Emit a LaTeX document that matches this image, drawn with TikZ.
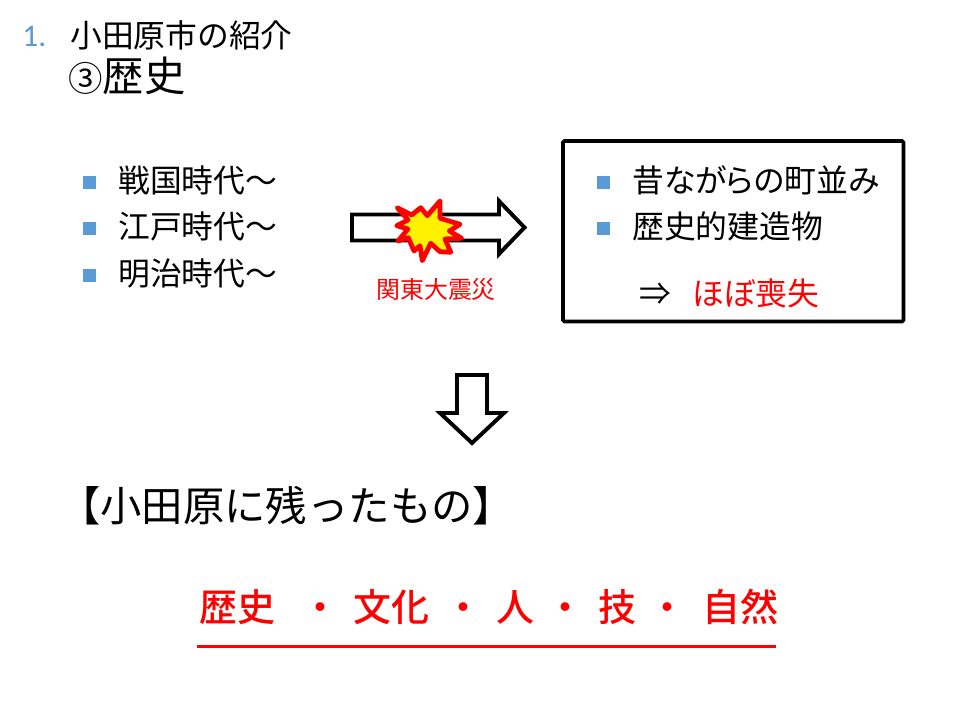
\documentclass[tikz,border=0pt]{standalone}
\usepackage{fontspec}
\usepackage{xcolor}
\setmainfont{Noto Sans CJK JP}
\newfontfamily\latinlabel{Carlito}
\newfontfamily\keyfont{Noto Sans CJK JP Medium}
\definecolor{bulletblue}{HTML}{5B9BD5}
\tikzset{
  bodytext/.style={anchor=base west, inner sep=0pt, font=\fontsize{22.6}{27}\selectfont},
  bigtext/.style={anchor=base west, inner sep=0pt, font=\fontsize{29.4}{35}\selectfont},
  keyword/.style={anchor=base west, inner sep=0pt, text=red, font=\keyfont\fontsize{27}{32}\selectfont},
  bulletbox/.style={fill=bulletblue, inner sep=0pt, minimum size=13*0.025cm},
  blockarrow/.style={draw=black, fill=white, line width=2.8pt, line join=miter}
}
\begin{document}
\begin{tikzpicture}[x=0.025cm, y=-0.025cm]
    \useasboundingbox (0,0) rectangle (960,720);
    % Title
    \node[anchor=base west, inner sep=0pt, text=bulletblue, font=\latinlabel\fontsize{22.4}{27}\selectfont] (num) at (22,47) {1.};
    \node[bodytext] (title) at (70,48) {小田原市の紹介};
    \node[bigtext] (era) at (68,92) {{\fontsize{24.5}{30}\selectfont ③}歴史};
    % Left list
    \foreach \yi/\name/\txt in {183/sengoku/戦国時代～, 229/edo/江戸時代～, 276/meiji/明治時代～}{
      \node[bulletbox] (b\name) at (89.5,\yi) {};
      \node[bodytext] (\name) at (118,\yi+10) {\txt};
    }
    % Arrow and burst
    \draw[blockarrow] (352,214.5) -- (499,214.5) -- (499,201) -- (524.5,227.5) -- (499,254) -- (499,240.5) -- (352,240.5) -- cycle;
    \draw[draw=red, fill=yellow, line width=3.4pt, line join=round]
      (397.3,207.7) -- (411.7,215) -- (420.7,207.7) -- (427.3,215.7) -- (440,201) -- (440,218.3)
      -- (460,224.3) -- (449.3,231) -- (461.7,238.3) -- (445,239) -- (450.7,252.3) -- (440,251.7)
      -- (430.7,243.3) -- (422.3,260.7) -- (420,245.7) -- (414,251) -- (408.3,237.7) -- (398,241)
      -- (408,229) -- (396.7,225.7) -- (408,220) -- cycle;
    \node[anchor=base west, inner sep=0pt, text=red, font=\fontsize{17}{20}\selectfont] (quake) at (376,299) {関東大震災};
    % Box
    \draw[draw=black, line width=2.6pt, rounded corners=1pt] (563,141) rectangle (903.5,321.5);
    \foreach \yi/\name in {183/town, 229/build}{
      \node[bulletbox] (b\name) at (603.5,\yi) {};
    }
    \node[bodytext] (town) at (632,193) {\addfontfeatures{RawFeature=+palt}昔ながらの町並み};
    \node[bodytext] (build) at (632,239) {歴史的建造物};
    \node[bodytext] (then) at (639,306) {⇒};
    \node[bodytext, text=red] (lost) at (692,306) {ほぼ喪失};
    % Down arrow
    \draw[blockarrow] (457,375) -- (487,375) -- (487,413) -- (504,413) -- (472,443) -- (440,413) -- (457,413) -- cycle;
    % Bottom
    \node[bigtext] (left) at (59,522) {【小田原に残ったもの】};
    \foreach \xi/\name/\txt in {199/rekishi/歴史, 301/dotA/・, 353/bunka/文化, 444/dotB/・, 496/hito/人, 546/dotC/・, 598/waza/技, 648/dotD/・, 702/shizen/自然}{
      \node[keyword] (\name) at (\xi,621) {\txt};
    }
    \coordinate (lineL) at (197,646.5);
    \coordinate (lineR) at (776,646.5);
    \draw[red, line width=2.2pt] (lineL) -- (lineR);
\end{tikzpicture}
\end{document}
